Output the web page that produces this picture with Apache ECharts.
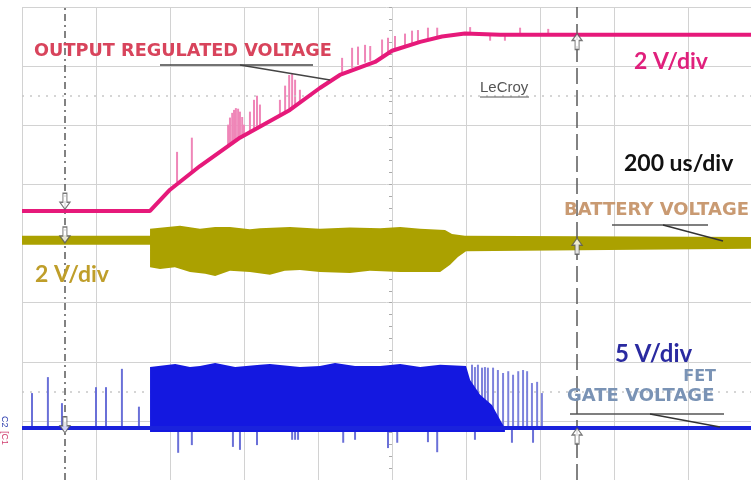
<!DOCTYPE html>
<html><head><meta charset="utf-8">
<script src="https://cdn.jsdelivr.net/npm/echarts@6/dist/echarts.min.js"></script>
<style>html,body{margin:0;padding:0;background:#fff}#c{width:751px;height:480px}</style>
</head><body><div id="c"></div><script>
// Time in microseconds (200 us/div); level in screen divisions counted from the bottom of the screen
const timeMax = 1970;

// Output regulated voltage (pink, main trace)
const pinkT = [0,346,400,481,589,724,805,859,954,1000,1076,1135,1197,1292,1500,1970];
const pinkV = [4.55,4.55,4.91,5.31,5.79,6.26,6.63,6.85,7.07,7.26,7.41,7.50,7.55,7.53,7.53,7.53];
// Pink overshoot spikes
const pinkSpikeT  = [419,459,557,562,568,573,578,584,589,595,600,616,627,635,643,697,711,722,730,738,751,865,892,908,927,941,973,989,1008,1035,1054,1070,1097,1122,1211,1265,1305,1346,1422];
const pinkSpikeLo = [5.04,5.21,5.62,5.65,5.67,5.70,5.72,5.75,5.79,5.80,5.82,5.89,5.92,5.94,5.97,6.16,6.21,6.24,6.28,6.31,6.36,6.87,6.97,7.02,7.06,7.09,7.16,7.21,7.26,7.31,7.36,7.39,7.45,7.48,7.55,7.55,7.55,7.55,7.55];
const pinkSpikeHi = [5.55,5.79,6.01,6.13,6.21,6.26,6.29,6.28,6.23,6.14,6.01,6.23,6.43,6.50,6.35,6.43,6.67,6.85,6.87,6.77,6.60,7.14,7.31,7.33,7.36,7.34,7.45,7.48,7.51,7.55,7.60,7.61,7.65,7.65,7.66,7.43,7.43,7.65,7.63];

// Battery voltage (olive) envelope
const oliveTopT = [0,346,346,427,481,522,562,616,643,724,805,886,968,1022,1076,1143,1162,1197,1970];
const oliveTopV = [4.13,4.13,4.25,4.30,4.25,4.28,4.28,4.24,4.26,4.28,4.25,4.27,4.26,4.28,4.25,4.23,4.16,4.13,4.11];
const oliveBotT = [0,346,346,373,413,454,495,522,562,616,670,710,751,805,886,940,1022,1130,1157,1178,1200,1970];
const oliveBotV = [3.98,3.98,3.60,3.57,3.60,3.52,3.49,3.45,3.54,3.52,3.47,3.54,3.55,3.52,3.50,3.54,3.52,3.52,3.64,3.77,3.87,3.91];

// FET gate voltage (blue)
const blueT = [0,1970];
const blueV = [0.88,0.88];
const blueBlockTopT = [346,414,454,481,522,576,643,670,751,805,846,900,968,1022,1076,1130,1200,1211,1238,1270,1292,1305];
const blueBlockTopV = [1.91,1.96,1.91,1.93,1.98,1.91,1.95,1.96,1.91,1.93,1.98,1.93,1.93,1.96,1.91,1.95,1.93,1.69,1.44,1.27,1.02,0.88];
const blueBlockBotV = 0.81;
const blueUpSpikeT  = [27,70,108,200,227,270,316];
const blueUpSpikeHi = [1.47,1.74,1.30,1.57,1.57,1.88,1.24];
const blueDownSpikeT  = [422,459,570,589,635,730,738,746,868,900,989,1014,1097,1122,1224,1324,1381];
const blueDownSpikeLo = [0.46,0.59,0.56,0.51,0.59,0.68,0.68,0.68,0.63,0.68,0.54,0.63,0.64,0.47,0.68,0.63,0.63];
const blueLightSpikeT  = [1216,1224,1232,1243,1251,1259,1273,1286,1300,1314,1327,1341,1354,1365,1378,1392,1405];
const blueLightSpikeHi = [1.95,1.91,1.95,1.90,1.91,1.90,1.90,1.86,1.81,1.84,1.78,1.84,1.86,1.84,1.64,1.66,1.47];
const blueBase = 0.88;

// Cursors and trace-level markers
const cursorT = [116,1500];
const refLevels = [6.5,1.5];
const markerDownT = [116,116,116];
const markerDownV = [4.58,4.01,0.80];
const markerUpT = [1500,1500,1500];
const markerUpV = [7.55,4.09,0.88];

const chart = echarts.init(document.getElementById('c'), null, {renderer:'canvas'});

function spikeSeries(t, lo, hi, color, w, z) {
  return {
    type:'custom', z:z, silent:true, clip:true,
    encode:{x:0,y:1},
    data: t.map((x,i)=>[x, Array.isArray(lo)?lo[i]:lo, Array.isArray(hi)?hi[i]:hi]),
    renderItem:(p,api)=>{
      const a = api.coord([api.value(0), api.value(1)]);
      const b = api.coord([api.value(0), api.value(2)]);
      return {type:'line', shape:{x1:a[0],y1:a[1],x2:b[0],y2:b[1]}, style:{stroke:color, lineWidth:w}};
    }
  };
}
function bandSeries(topT, topV, botT, botV, color, z) {
  return {
    type:'custom', z:z, silent:true, clip:true,
    encode:{x:0,y:1},
    data:[[topT[0], topV[0]]],
    renderItem:(p,api)=>{
      const pts = [];
      for (let i=0;i<topT.length;i++) pts.push(api.coord([topT[i], topV[i]]));
      for (let i=botT.length-1;i>=0;i--) pts.push(api.coord([botT[i], Array.isArray(botV)?botV[i]:botV]));
      return {type:'polygon', shape:{points:pts}, style:{fill:color}};
    }
  };
}
const arrowPath = 'path://M3,0 L7,0 L7,9 L10,9 L5,16 L0,9 L3,9 Z';

const option = {
  animation:false,
  backgroundColor:'#ffffff',
  grid:{left:22, right:0, top:7, bottom:0, containLabel:false},
  xAxis:{type:'value', min:0, max:timeMax, interval:200,
    axisLine:{show:false}, axisTick:{show:false}, axisLabel:{show:false},
    splitLine:{show:true, lineStyle:{color:'#d2d2d2', width:1}}},
  yAxis:[
    {type:'value', min:0, max:8, interval:1,
     axisLine:{show:false}, axisTick:{show:false}, axisLabel:{show:false},
     splitLine:{show:true, lineStyle:{color:'#d2d2d2', width:1}}},
    {type:'value', min:0, max:8, interval:1, position:'left', offset:-370,
     axisLine:{show:false}, axisLabel:{show:false}, splitLine:{show:false},
     axisTick:{show:true, length:3, lineStyle:{color:'#aaa'}},
     minorTick:{show:true, splitNumber:5, length:3, lineStyle:{color:'#aaa'}}}
  ],
  series:[
    {type:'line', z:1, silent:true, symbol:'none', data:[],
     markLine:{silent:true, symbol:'none', label:{show:false},
       lineStyle:{color:'#c8c8c8', type:[2,6], width:1.5},
       data: refLevels.map(v=>({yAxis:v}))}},
    bandSeries(oliveTopT, oliveTopV, oliveBotT, oliveBotV, '#aba100', 3),
    spikeSeries(pinkSpikeT, pinkSpikeLo, pinkSpikeHi, '#ef86b8', 2, 4),
    {type:'line', z:5, silent:true, symbol:'none', data:pinkT.map((t,i)=>[t,pinkV[i]]),
     lineStyle:{color:'#e6197a', width:4}},
    spikeSeries(blueLightSpikeT, blueBase, blueLightSpikeHi, '#7d82dc', 2, 6),
    spikeSeries(blueUpSpikeT, blueBase, blueUpSpikeHi, '#6a70d8', 2, 6),
    spikeSeries(blueDownSpikeT, blueDownSpikeLo, blueBase, '#6a70d8', 2, 6),
    bandSeries(blueBlockTopT, blueBlockTopV, [blueBlockTopT[0], blueBlockTopT[blueBlockTopT.length-1]], blueBlockBotV, '#1418e0', 7),
    {type:'line', z:8, silent:true, symbol:'none', data:blueT.map((t,i)=>[t,blueV[i]]),
     lineStyle:{color:'#1a22dc', width:4}},
    {type:'line', z:9, silent:true, symbol:'none', data:[],
     markLine:{silent:true, symbol:'none', label:{show:false},
       data:[
         {xAxis:cursorT[0], lineStyle:{color:'#5a5a5a', type:[7,4,2,4], width:1.5}},
         {xAxis:cursorT[1], lineStyle:{color:'#5a5a5a', type:[16,6], width:1.5}}
       ]}},
    {type:'scatter', z:10, silent:true, symbol:arrowPath, symbolSize:[10,16], symbolOffset:[0,-8],
     itemStyle:{color:'#ffffff', borderColor:'#555', borderWidth:1.2},
     data:markerDownT.map((t,i)=>[t,markerDownV[i]])},
    {type:'scatter', z:10, silent:true, symbol:arrowPath, symbolSize:[10,16], symbolRotate:180, symbolOffset:[0,8],
     itemStyle:{color:'#ffffff', borderColor:'#555', borderWidth:1.2},
     data:markerUpT.map((t,i)=>[t,markerUpV[i]])}
  ],
  graphic:[
    {type:'text', z:100, x:34, y:42, style:{text:'OUTPUT REGULATED VOLTAGE', font:'bold 17.7px "DejaVu Sans"', fill:'#d8445c'}},
    {type:'line', z:100, shape:{x1:160,y1:65,x2:313,y2:65}, style:{stroke:'#444', lineWidth:1.5}},
    {type:'line', z:100, shape:{x1:240,y1:65,x2:330,y2:80}, style:{stroke:'#444', lineWidth:1.5}},
    {type:'text', z:100, x:634, y:50, style:{text:'2 V/div', font:'bold 23px Lato', fill:'#e0207c'}},
    {type:'text', z:100, x:480, y:80, style:{text:'LeCroy', font:'15px "Liberation Sans"', fill:'#555'}},
    {type:'line', z:100, shape:{x1:480,y1:97,x2:529,y2:97}, style:{stroke:'#555', lineWidth:1}},
    {type:'text', z:100, x:624, y:152, style:{text:'200 us/div', font:'bold 23px Lato', fill:'#111'}},
    {type:'text', z:100, x:564, y:201, style:{text:'BATTERY VOLTAGE', font:'bold 18px "DejaVu Sans"', fill:'#c99a72'}},
    {type:'line', z:100, shape:{x1:612,y1:225,x2:708,y2:225}, style:{stroke:'#555', lineWidth:1.5}},
    {type:'line', z:100, shape:{x1:663,y1:225,x2:723,y2:241}, style:{stroke:'#333', lineWidth:1.5}},
    {type:'text', z:100, x:35, y:263, style:{text:'2 V/div', font:'bold 23px Lato', fill:'#bf9e2a'}},
    {type:'text', z:100, x:615, y:342, style:{text:'5 V/div', font:'bold 24px Lato', fill:'#2a2aa0'}},
    {type:'text', z:100, x:716, y:369, style:{text:'FET', font:'bold 16px "DejaVu Sans"', fill:'#7a93b5', textAlign:'right'}},
    {type:'text', z:100, x:567, y:387, style:{text:'GATE VOLTAGE', font:'bold 18px "DejaVu Sans"', fill:'#7a93b5'}},
    {type:'line', z:100, shape:{x1:570,y1:414,x2:724,y2:414}, style:{stroke:'#555', lineWidth:1.5}},
    {type:'line', z:100, shape:{x1:650,y1:414,x2:720,y2:427}, style:{stroke:'#333', lineWidth:1.5}},
    {type:'text', z:100, x:9, y:416, rotation:-Math.PI/2, style:{text:'C2', font:'9px "Liberation Sans"', fill:'#3040b0'}},
    {type:'text', z:100, x:9, y:431, rotation:-Math.PI/2, style:{text:'[C1', font:'9px "Liberation Sans"', fill:'#d04070'}}
  ]
};
chart.setOption(option);
</script></body></html>
